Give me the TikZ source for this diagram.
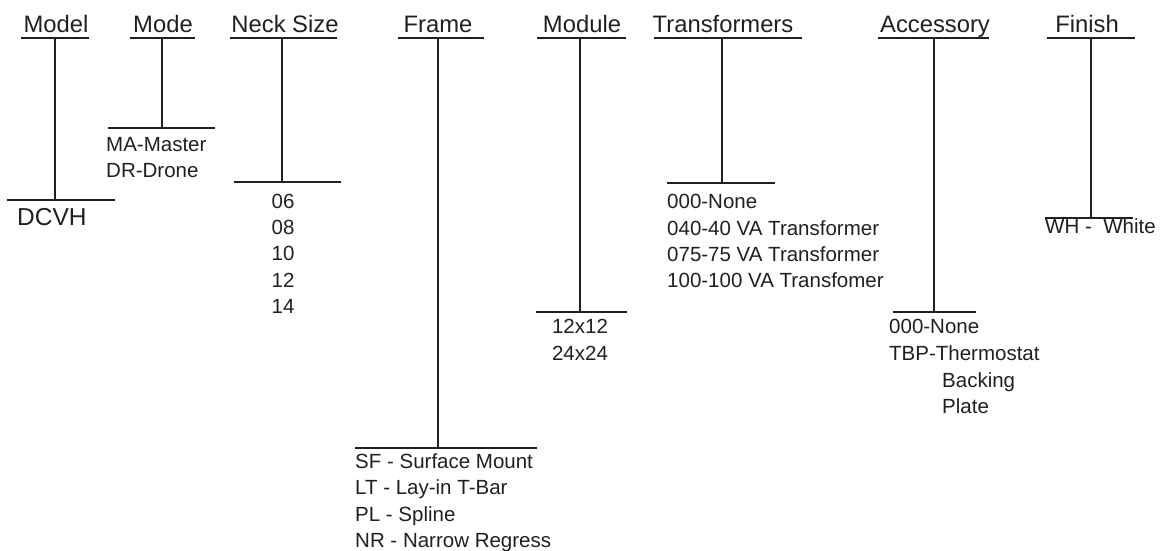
\documentclass[tikz,border=0pt]{standalone}
\usepackage{fontspec}
\setmainfont{Liberation Sans}
\definecolor{ink}{RGB}{35,31,32}
\begin{document}
\begin{tikzpicture}[x=1pt,y=-1pt,
  rule/.style={draw=ink,line width=2pt},
  head/.style={inner sep=0pt,anchor=base,text=ink,font=\fontsize{23.8}{28}\selectfont},
  item/.style={inner sep=0pt,anchor=base west,text=ink,font=\fontsize{20.5}{24}\selectfont},
  citem/.style={item,anchor=base},
]
\useasboundingbox (0,0) rectangle (1164,551);

% ---------- Model ----------
\node[head] (hModel) at (56,32.5) {Model};
\coordinate (uModelL) at (21,38); \coordinate (uModelR) at (89,38);
\coordinate (tModel) at (55,38); \coordinate (bModel) at (55,200);
\coordinate (lModelL) at (7,200); \coordinate (lModelR) at (115,200);
\draw[rule] (uModelL) -- (uModelR);
\draw[rule] (tModel) -- (bModel);
\draw[rule] (lModelL) -- (lModelR);
\node[head,anchor=base west,font=\fontsize{24.5}{28}\selectfont] (iModel1) at (17,225) {DCVH};

% ---------- Mode ----------
\node[head] (hMode) at (163,32.5) {Mode};
\coordinate (uModeL) at (130,38); \coordinate (uModeR) at (195,38);
\coordinate (tMode) at (162,38); \coordinate (bMode) at (162,128);
\coordinate (lModeL) at (108,128); \coordinate (lModeR) at (215,128);
\draw[rule] (uModeL) -- (uModeR);
\draw[rule] (tMode) -- (bMode);
\draw[rule] (lModeL) -- (lModeR);
\node[item] (iMode1) at (106,151) {MA-Master};
\node[item] (iMode2) at (106,177) {DR-Drone};

% ---------- Neck Size ----------
\node[head] (hNeck) at (285,32.5) {Neck Size};
\coordinate (uNeckL) at (230,38); \coordinate (uNeckR) at (337,38);
\coordinate (tNeck) at (282,38); \coordinate (bNeck) at (282,182);
\coordinate (lNeckL) at (234,182); \coordinate (lNeckR) at (341,182);
\draw[rule] (uNeckL) -- (uNeckR);
\draw[rule] (tNeck) -- (bNeck);
\draw[rule] (lNeckL) -- (lNeckR);
\node[citem] (iNeck1) at (283,208) {06};
\node[citem] (iNeck2) at (283,234) {08};
\node[citem] (iNeck3) at (283,260) {10};
\node[citem] (iNeck4) at (283,287) {12};
\node[citem] (iNeck5) at (283,313) {14};

% ---------- Frame ----------
\node[head] (hFrame) at (438,32.5) {Frame};
\coordinate (uFrameL) at (398,38); \coordinate (uFrameR) at (484,38);
\coordinate (tFrame) at (438,38); \coordinate (bFrame) at (438,448);
\coordinate (lFrameL) at (355,448); \coordinate (lFrameR) at (537,448);
\draw[rule] (uFrameL) -- (uFrameR);
\draw[rule] (tFrame) -- (bFrame);
\draw[rule] (lFrameL) -- (lFrameR);
\node[item] (iFrame1) at (355,468) {SF - Surface Mount};
\node[item] (iFrame2) at (355,494) {LT - Lay-in T-Bar};
\node[item] (iFrame3) at (355,521) {PL - Spline};
\node[item] (iFrame4) at (355,547) {NR - Narrow Regress};

% ---------- Module ----------
\node[head] (hModule) at (582,32.5) {Module};
\coordinate (uModuleL) at (537,38); \coordinate (uModuleR) at (626,38);
\coordinate (tModule) at (580,38); \coordinate (bModule) at (580,312);
\coordinate (lModuleL) at (536,312); \coordinate (lModuleR) at (627,312);
\draw[rule] (uModuleL) -- (uModuleR);
\draw[rule] (tModule) -- (bModule);
\draw[rule] (lModuleL) -- (lModuleR);
\node[citem] (iModule1) at (580,333) {12x12};
\node[citem] (iModule2) at (580,360) {24x24};

% ---------- Transformers ----------
\node[head] (hTrans) at (723,32.5) {Transformers};
\coordinate (uTransL) at (654,38); \coordinate (uTransR) at (802,38);
\coordinate (tTrans) at (722,38); \coordinate (bTrans) at (722,183);
\coordinate (lTransL) at (667,183); \coordinate (lTransR) at (775,183);
\draw[rule] (uTransL) -- (uTransR);
\draw[rule] (tTrans) -- (bTrans);
\draw[rule] (lTransL) -- (lTransR);
\node[item] (iTrans1) at (667,208) {000-None};
\node[item] (iTrans2) at (667,235) {040-40 VA Transformer};
\node[item] (iTrans3) at (667,261) {075-75 VA Transformer};
\node[item] (iTrans4) at (667,287) {100-100 VA Transfomer};

% ---------- Accessory ----------
\node[head] (hAcc) at (935,32.5) {Accessory};
\coordinate (uAccL) at (878,38); \coordinate (uAccR) at (989,38);
\coordinate (tAcc) at (934,38); \coordinate (bAcc) at (934,312);
\coordinate (lAccL) at (893,312); \coordinate (lAccR) at (976,312);
\draw[rule] (uAccL) -- (uAccR);
\draw[rule] (tAcc) -- (bAcc);
\draw[rule] (lAccL) -- (lAccR);
\node[item] (iAcc1) at (889,333) {000-None};
\node[item] (iAcc2) at (889,360) {TBP-Thermostat};
\node[item] (iAcc3) at (942,387) {Backing};
\node[item] (iAcc4) at (942,413) {Plate};

% ---------- Finish ----------
\node[head] (hFinish) at (1087,32.5) {Finish};
\coordinate (uFinL) at (1047,38); \coordinate (uFinR) at (1135,38);
\coordinate (tFin) at (1091,38); \coordinate (bFin) at (1091,218);
\coordinate (lFinL) at (1045,218); \coordinate (lFinR) at (1133,218);
\draw[rule] (uFinL) -- (uFinR);
\draw[rule] (tFin) -- (bFin);
\draw[rule] (lFinL) -- (lFinR);
\node[item] (iFin1) at (1045,233) {WH -\ \ White};
\end{tikzpicture}
\end{document}
